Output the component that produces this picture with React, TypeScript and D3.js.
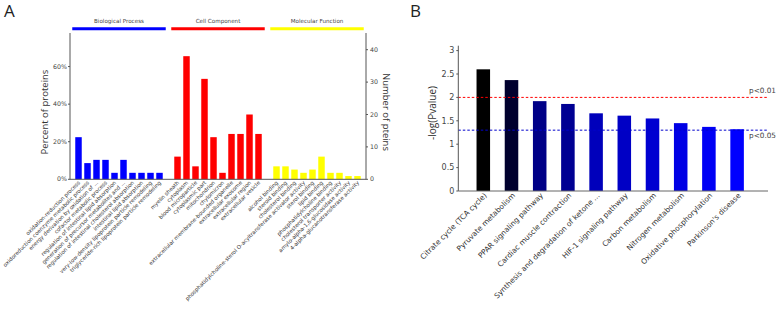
import React from "react";
import * as d3 from "d3";

// ---------- Panel A data ----------
const bpLabels = [
  "oxidation-reduction process",
  "oxidoreduction coenzyme metabolic process",
  "energy derivation by oxidation of ...",
  "cofactor metabolic process",
  "regulation of intestinal lipid absorption",
  "generation of precursor metabolites and ...",
  "regulation of intestinal cholesterol absorption",
  "intestinal lipid absorption",
  "very-low-density lipoprotein particle remodeling",
  "triglyceride-rich lipoprotein particle remodeling",
];
const bpCounts = [13, 5, 6, 6, 2, 6, 2, 2, 2, 2];

const ccLabels = [
  "myelin sheath",
  "cytoplasm",
  "blood microparticle",
  "cytoplasmic part",
  "mitochondrion",
  "chylomicron",
  "extracellular membrane-bounded organelle",
  "extracellular exosome",
  "extracellular region",
  "extracellular vesicle",
];
const ccCounts = [7, 38, 4, 31, 13, 2, 14, 14, 20, 14];

const mfLabels = [
  "alcohol binding",
  "steroid binding",
  "cholesterol binding",
  "phosphatidylcholine-sterol O-acyltransferase activator activity",
  "sterol binding",
  "lipid binding",
  "phosphatidylcholine binding",
  "cholesterol transporter activity",
  "amylo-alpha-1,6-glucosidase activity",
  "4-alpha-glucanotransferase activity",
];
const mfCounts = [4, 4, 3, 2, 3, 7, 2, 2, 1, 1];

const groupNames = ["Biological Process", "Cell Component", "Molecular Function"];
const groupColors = ["#0000ff", "#ff0000", "#ffff00"];
const totalProteins = 58;
const pctTicks = [0, 0.2, 0.4, 0.6];
const countTicks = [0, 10, 20, 30, 40];

// ---------- Panel B data ----------
const pathways = [
  "Citrate cycle (TCA cycle)",
  "Pyruvate metabolism",
  "PPAR signaling pathway",
  "Cardiac muscle contraction",
  "Synthesis and degradation of ketone ...",
  "HIF-1 signaling pathway",
  "Carbon metabolism",
  "Nitrogen metabolism",
  "Oxidative phosphorylation",
  "Parkinson's disease",
];
const pValues = [2.6, 2.37, 1.92, 1.86, 1.66, 1.61, 1.55, 1.45, 1.37, 1.32];
const pTicks = [0, 0.5, 1, 1.5, 2, 2.5, 3];
const thresholds = [
  { v: 2, label: "p<0.01", color: "#ff0000" },
  { v: 1.3, label: "p<0.05", color: "#0000cc" },
];

const LABEL_FONT = "'DejaVu Sans', Verdana, sans-serif";
const TITLE_FONT = "'Open Sans', 'Liberation Sans', sans-serif";

function PanelA() {
  const groups = [
    { name: groupNames[0], labels: bpLabels, counts: bpCounts, color: groupColors[0] },
    { name: groupNames[1], labels: ccLabels, counts: ccCounts, color: groupColors[1] },
    { name: groupNames[2], labels: mfLabels, counts: mfCounts, color: groupColors[2] },
  ];
  const domain: string[] = [];
  groups.forEach((g, gi) => {
    g.labels.forEach((l) => domain.push(gi + "|" + l));
    if (gi < groups.length - 1) domain.push("gap" + gi);
  });
  const x = d3.scaleBand<string>().domain(domain).range([74, 362]).paddingInner(0.28).paddingOuter(0.14);
  const yCount = d3.scaleLinear().domain([0, 45]).range([179.3, 33.5]);
  const yPct = d3.scaleLinear().domain([0, 45 / totalProteins]).range([179.3, 33.5]);
  const left = 70;
  const right = 366;
  const base = yCount(0);
  const fmt = d3.format(".0%");

  return (
    <g>
      <text x={4} y={17} fontSize={17} fontFamily={TITLE_FONT} fill="#222">A</text>
      {groups.map((g, gi) => {
        const x0 = x(gi + "|" + g.labels[0])! - 3;
        const x1 = x(gi + "|" + g.labels[g.labels.length - 1])! + x.bandwidth() + 3;
        return (
          <g key={g.name}>
            <line x1={x0} x2={x1} y1={28.7} y2={28.7} stroke={g.color} strokeWidth={3} />
            <text x={(x0 + x1) / 2} y={23} fontSize={5.6} textAnchor="middle" fontFamily={LABEL_FONT} fill="#444">
              {g.name}
            </text>
            {g.labels.map((l, i) => (
              <rect
                key={l}
                x={x(gi + "|" + l)}
                width={x.bandwidth()}
                y={yCount(g.counts[i])}
                height={base - yCount(g.counts[i])}
                fill={g.color}
              />
            ))}
            {g.labels.map((l) => {
              const cx = x(gi + "|" + l)! + x.bandwidth() / 2;
              return (
                <text
                  key={"t" + l}
                  transform={`translate(${cx + 2},${183}) rotate(-45)`}
                  textAnchor="end"
                  fontSize={5.35}
                  fontFamily={LABEL_FONT}
                  fill="#333"
                >
                  {l}
                </text>
              );
            })}
          </g>
        );
      })}
      {/* axes */}
      <line x1={left} x2={left} y1={33} y2={base} stroke="#555" strokeWidth={1} />
      <line x1={right} x2={right} y1={33} y2={base} stroke="#555" strokeWidth={1} />
      <line x1={left} x2={right} y1={base} y2={base} stroke="#555" strokeWidth={1} />
      {pctTicks.map((t) => (
        <g key={"p" + t}>
          <line x1={left - 2} x2={left} y1={yPct(t)} y2={yPct(t)} stroke="#555" />
          <text x={left - 3} y={yPct(t) + 2} fontSize={6.3} textAnchor="end" fontFamily={LABEL_FONT} fill="#444">
            {fmt(t)}
          </text>
        </g>
      ))}
      {countTicks.map((t) => (
        <g key={"c" + t}>
          <line x1={right} x2={right + 2} y1={yCount(t)} y2={yCount(t)} stroke="#555" />
          <text x={right + 4} y={yCount(t) + 2} fontSize={6.3} textAnchor="start" fontFamily={LABEL_FONT} fill="#444">
            {t}
          </text>
        </g>
      ))}
      <text
        transform={`translate(48,112) rotate(-90)`}
        textAnchor="middle"
        fontSize={9.5}
        fontFamily={TITLE_FONT}
        fill="#333"
      >
        Percent of proteins
      </text>
      <text
        transform={`translate(383,112) rotate(90)`}
        textAnchor="middle"
        fontSize={9.5}
        fontFamily={TITLE_FONT}
        fill="#333"
      >
        Number of pteins
      </text>
    </g>
  );
}

function PanelB() {
  const x = d3.scaleBand<string>().domain(pathways).range([469.2, 751.2]).paddingInner(0.52).paddingOuter(0.26);
  const y = d3.scaleLinear().domain([0, 3]).range([191, 50.6]);
  const color = d3
    .scaleLinear<string>()
    .domain([d3.max(pValues)!, d3.min(pValues)!])
    .range(["#000000", "#0000ff"]);
  const left = 458.3;
  const right = 768;
  const base = y(0);
  return (
    <g>
      <text x={410} y={17} fontSize={17} fontFamily={TITLE_FONT} fill="#222">B</text>
      {pathways.map((p, i) => (
        <rect key={p} x={x(p)} width={x.bandwidth()} y={y(pValues[i])} height={base - y(pValues[i])} fill={color(pValues[i])} />
      ))}
      {thresholds.map((t) => (
        <g key={t.label}>
          <line x1={left} x2={right} y1={y(t.v)} y2={y(t.v)} stroke={t.color} strokeWidth={1} strokeDasharray="2.5,2" />
        </g>
      ))}
      <text x={749} y={y(thresholds[0].v) - 4} fontSize={7.3} fontFamily={LABEL_FONT} fill="#444">
        {thresholds[0].label}
      </text>
      <text x={749} y={y(thresholds[1].v) + 8} fontSize={7.3} fontFamily={LABEL_FONT} fill="#444">
        {thresholds[1].label}
      </text>
      <line x1={left} x2={left} y1={45.7} y2={base} stroke="#555" />
      <line x1={left} x2={right} y1={base} y2={base} stroke="#666" />
      {pTicks.map((t) => (
        <g key={t}>
          <line x1={left - 2} x2={left} y1={y(t)} y2={y(t)} stroke="#555" />
          <text x={left - 4} y={y(t) + 2.8} fontSize={8} textAnchor="end" fontFamily={LABEL_FONT} fill="#444">
            {t}
          </text>
        </g>
      ))}
      {pathways.map((p) => {
        const cx = x(p)! + x.bandwidth() / 2;
        return (
          <text
            key={"l" + p}
            transform={`translate(${cx + 4},${196}) rotate(-45)`}
            textAnchor="end"
            fontSize={7.4}
            fontFamily={LABEL_FONT}
            fill="#333"
          >
            {p}
          </text>
        );
      })}
      <text
        transform={`translate(436,113) rotate(-90)`}
        textAnchor="middle"
        fontSize={10}
        fontFamily={TITLE_FONT}
        fill="#333"
      >
        -log(Pvalue)
      </text>
    </g>
  );
}

export default function App() {
  return (
    <svg
      width={778}
      height={310}
      style={{ position: "absolute", left: 0, top: 0, background: "#fff" }}
    >
      <rect width={778} height={310} fill="#fff" />
      <PanelA />
      <PanelB />
    </svg>
  );
}
